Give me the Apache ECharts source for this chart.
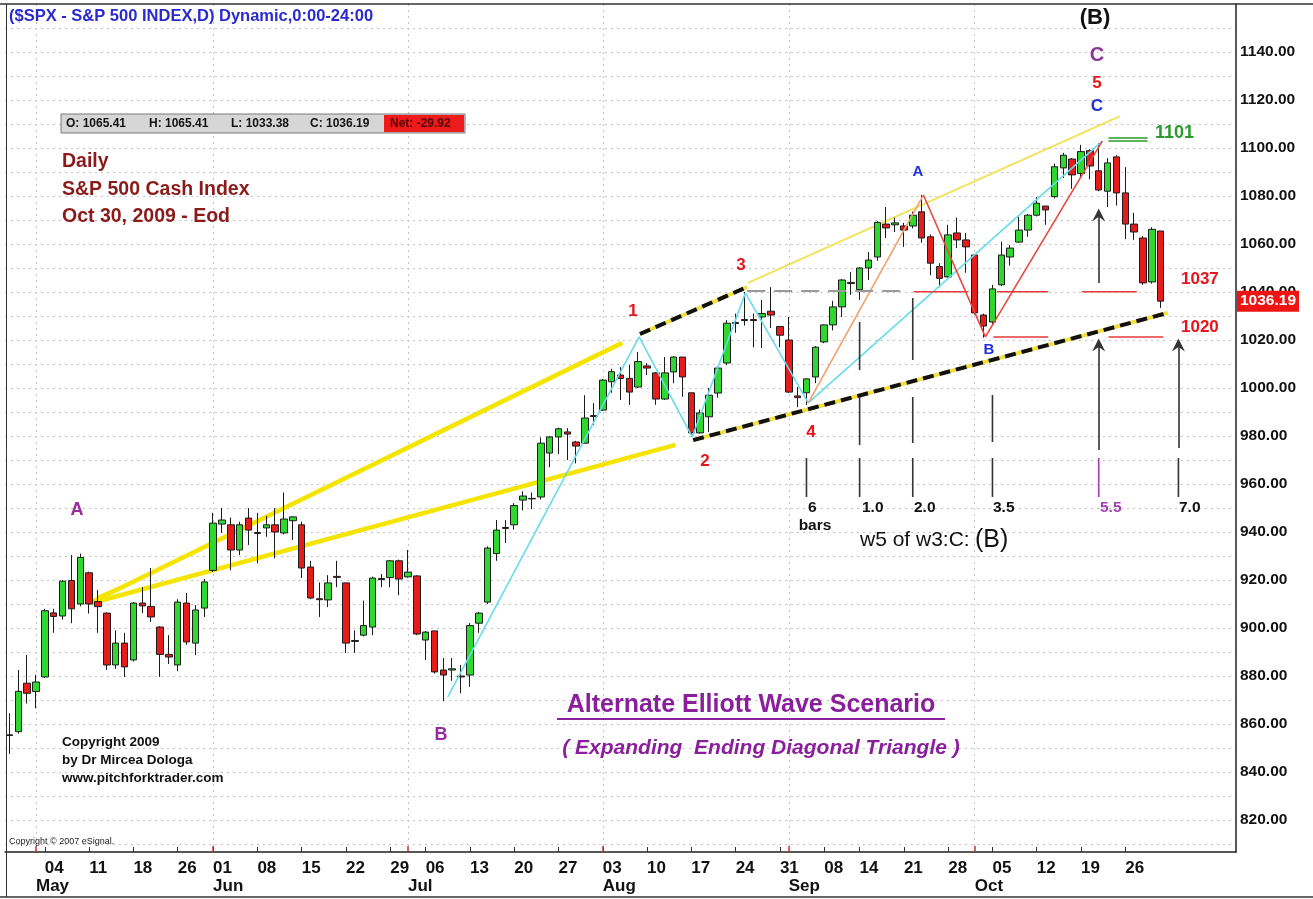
<!DOCTYPE html>
<html><head><meta charset="utf-8">
<script src="https://cdn.jsdelivr.net/npm/echarts@6/dist/echarts.min.js"></script>
<style>html,body{margin:0;padding:0;background:#fff;}#c{width:1313px;height:899px;}</style>
</head><body><div id="c"></div>
<script>
// ---------------- DATA ----------------
const dates = [
'2009-04-28','2009-04-29','2009-04-30','2009-05-01',
'2009-05-04','2009-05-05','2009-05-06','2009-05-07','2009-05-08',
'2009-05-11','2009-05-12','2009-05-13','2009-05-14','2009-05-15',
'2009-05-18','2009-05-19','2009-05-20','2009-05-21','2009-05-22',
'2009-05-26','2009-05-27','2009-05-28','2009-05-29',
'2009-06-01','2009-06-02','2009-06-03','2009-06-04','2009-06-05',
'2009-06-08','2009-06-09','2009-06-10','2009-06-11','2009-06-12',
'2009-06-15','2009-06-16','2009-06-17','2009-06-18','2009-06-19',
'2009-06-22','2009-06-23','2009-06-24','2009-06-25','2009-06-26',
'2009-06-29','2009-06-30','2009-07-01','2009-07-02',
'2009-07-06','2009-07-07','2009-07-08','2009-07-09','2009-07-10',
'2009-07-13','2009-07-14','2009-07-15','2009-07-16','2009-07-17',
'2009-07-20','2009-07-21','2009-07-22','2009-07-23','2009-07-24',
'2009-07-27','2009-07-28','2009-07-29','2009-07-30','2009-07-31',
'2009-08-03','2009-08-04','2009-08-05','2009-08-06','2009-08-07',
'2009-08-10','2009-08-11','2009-08-12','2009-08-13','2009-08-14',
'2009-08-17','2009-08-18','2009-08-19','2009-08-20','2009-08-21',
'2009-08-24','2009-08-25','2009-08-26','2009-08-27','2009-08-28',
'2009-08-31','2009-09-01','2009-09-02','2009-09-03','2009-09-04',
'2009-09-08','2009-09-09','2009-09-10','2009-09-11',
'2009-09-14','2009-09-15','2009-09-16','2009-09-17','2009-09-18',
'2009-09-21','2009-09-22','2009-09-23','2009-09-24','2009-09-25',
'2009-09-28','2009-09-29','2009-09-30','2009-10-01','2009-10-02',
'2009-10-05','2009-10-06','2009-10-07','2009-10-08','2009-10-09',
'2009-10-12','2009-10-13','2009-10-14','2009-10-15','2009-10-16',
'2009-10-19','2009-10-20','2009-10-21','2009-10-22','2009-10-23',
'2009-10-26','2009-10-27','2009-10-28','2009-10-29','2009-10-30'];
const futureSlots = ['f1','f2','f3','f4','f5','f6','f7','f8'];

const opens = [
855.5,856.8,877.0,873.5,
879.6,906.3,905.0,919.8,910.0,
923.0,911.0,906.2,884.6,893.7,
886.7,910.4,909.0,900.4,889.0,
884.6,910.4,893.7,908.3,
924.0,943.3,943.0,932.5,945.8,
939.8,941.7,943.0,939.6,944.7,
943.0,925.4,912.2,911.7,921.5,
918.8,894.8,897.0,900.4,920.6,
921.0,928.0,921.3,921.7,
895.0,898.8,882.5,882.5,880.0,
880.4,902.0,910.8,931.0,941.9,
943.0,953.3,953.8,954.6,972.9,
979.6,981.7,977.5,977.0,988.5,
990.8,1002.6,1005.4,1004.0,1000.4,
1009.2,1006.3,995.4,1006.7,1012.9,
998.0,981.3,988.0,997.9,1010.4,
1027.3,1028.5,1028.5,1029.6,1032.0,
1025.6,1020.0,996.7,998.0,1004.6,
1019.2,1026.3,1033.8,1044.0,
1041.0,1050.0,1054.6,1068.3,1068.0,
1067.5,1067.5,1073.4,1063.0,1050.6,
1046.3,1064.6,1061.7,1055.4,1030.4,
1027.5,1043.0,1054.6,1060.8,1065.8,
1072.0,1075.8,1079.7,1091.7,1095.4,
1089.4,1098.9,1090.5,1082.0,1096.3,
1081.3,1068.3,1062.5,1044.2,1065.41];
const closes = [
855.2,873.6,872.8,877.5,
907.2,904.8,919.5,908.0,929.4,
910.0,908.9,884.6,893.7,883.8,
910.4,909.2,904.6,889.0,887.9,
910.8,894.2,907.5,919.2,
943.7,945.0,932.5,943.0,940.8,
939.4,943.0,940.0,945.4,946.3,
925.0,912.5,911.8,918.8,921.1,
893.7,894.4,901.0,920.8,920.2,
928.0,920.4,923.3,897.5,
898.3,881.7,880.4,883.0,879.6,
901.0,906.2,933.3,940.8,941.5,
951.0,955.0,954.0,977.0,979.6,
983.0,980.8,975.8,987.5,988.1,
1003.3,1006.8,1004.0,998.3,1011.0,
1008.3,995.4,1006.3,1012.9,1004.6,
981.3,989.6,997.0,1008.3,1027.0,
1026.9,1028.1,1028.1,1031.0,1030.4,
1022.0,998.3,996.0,1003.8,1017.0,
1026.3,1033.8,1045.0,1043.5,
1050.0,1053.3,1069.0,1066.7,1068.8,
1065.8,1072.0,1062.5,1052.0,1045.7,
1063.8,1061.7,1058.8,1031.3,1025.8,
1041.3,1055.4,1058.3,1065.8,1072.0,
1077.0,1074.2,1092.2,1097.0,1088.8,
1098.5,1092.5,1082.5,1093.8,1081.3,
1068.3,1065.0,1043.8,1066.11,1036.19];
const lows = [
847.5,856.0,868.5,866.5,
879.2,898.0,903.5,902.0,909.0,
906.0,898.0,882.5,883.0,879.6,
886.0,906.2,902.5,879.6,885.0,
882.0,893.0,888.7,904.6,
923.3,939.6,924.0,930.4,934.6,
927.0,938.0,929.0,939.0,936.7,
920.8,912.0,904.6,908.7,917.0,
889.6,889.6,896.5,897.0,917.0,
917.0,913.7,921.0,897.0,
886.7,881.0,869.5,878.0,872.8,
875.5,898.0,910.0,928.0,935.4,
941.0,949.0,949.5,953.5,967.0,
972.5,970.0,968.6,977.0,984.6,
990.5,998.0,995.0,992.9,1000.0,
1005.4,993.0,995.0,1002.0,996.3,
979.6,981.0,981.7,996.0,1009.5,
1023.0,1026.0,1017.0,1016.7,1025.0,
1017.0,997.9,992.0,992.9,1002.0,
1018.7,1024.0,1029.6,1038.8,
1036.7,1045.0,1053.0,1062.5,1065.0,
1058.8,1066.5,1060.5,1047.0,1042.0,
1046.0,1058.3,1048.0,1030.5,1021.0,
1026.0,1042.5,1051.0,1060.5,1063.0,
1071.5,1068.0,1079.0,1087.5,1083.0,
1087.5,1087.0,1082.0,1075.4,1076.0,
1062.0,1061.7,1043.0,1043.5,1033.38];
const highs = [
864.5,882.5,888.7,880.5,
908.0,908.0,920.0,930.4,931.0,
923.5,915.8,906.5,899.0,898.0,
910.8,917.0,925.0,900.8,897.0,
912.0,914.6,909.6,920.4,
948.0,950.0,946.0,944.3,950.0,
948.0,946.7,950.0,956.5,946.5,
944.3,928.0,919.0,922.0,928.0,
918.8,899.0,911.4,921.4,922.5,
928.3,928.5,932.5,922.0,
898.8,898.8,887.5,887.5,884.6,
902.0,906.7,934.0,945.0,945.0,
952.0,957.0,956.5,979.4,980.0,
983.5,983.3,978.0,997.0,993.7,
1003.8,1008.0,1008.7,1009.6,1015.0,
1010.4,1006.7,1012.9,1013.3,1012.9,
998.0,991.0,1000.0,1009.0,1028.3,
1031.0,1040.0,1031.0,1036.7,1042.0,
1025.6,1029.6,1000.4,1004.0,1017.5,
1026.5,1036.3,1045.4,1048.3,
1050.4,1056.7,1069.5,1075.4,1071.0,
1068.8,1073.5,1080.4,1064.0,1052.0,
1068.0,1071.0,1064.6,1055.8,1031.0,
1043.0,1061.0,1059.6,1071.3,1072.5,
1079.6,1075.8,1093.5,1098.0,1095.8,
1101.3,1099.5,1102.0,1095.8,1097.0,
1092.0,1073.0,1063.3,1067.0,1065.41];

const yLabelValues = [820,840,860,880,900,920,940,960,980,1000,1020,1040,1060,1080,1100,1120,1140];
const yGridValues = [810,820,830,840,850,860,870,880,890,900,910,920,930,940,950,960,970,980,990,1000,1010,1020,1030,1040,1050,1060,1070,1080,1090,1100,1110,1120,1130,1140,1150];
const monthNames = {'05':'May','06':'Jun','07':'Jul','08':'Aug','09':'Sep','10':'Oct'};

// annotation lines: points are [bar index, price]
const yellowFanUpper = [[9.3,910.8],[69.2,1018.8]];
const yellowFanLower = [[9.3,910.4],[75.2,976.3]];
const yellowFanShort = [[10.0,912.9],[13.1,917.9]];
const yellowThin = [[83.4,1043.8],[125.4,1113.3]];
const dashedUpper = [[71.2,1022.5],[83.3,1042.1]];
const dashedLower = [[77.2,978.3],[130.8,1031.3]];
const cyanWaves = [[49.5,871.3],[71.1,1021.3],[77.1,979.6],[83.1,1039.6],[90.2,993.8]];
const cyanToC = [[90.2,993.8],[123.4,1102.9]];
const orangeToA = [[90.2,993.8],[103.2,1080.4]];
const redABC = [[103.2,1080.4],[110.2,1021.3],[123.4,1102.9]];
const grayLevel = [83.3,101.4,1040.4];
const redLevels = [[102.1,108.3,1040.1],[111.5,117.3,1040.1],[121.1,127.3,1040.1],[111.1,117.3,1021.3],[124.1,130.3,1021.3]];
const greenLevels = [[124.1,128.5,1104.2],[124.1,128.5,1102.9]];
const timeLines = [
  {idx:90, segs:[[954.6,970.8]], color:'#333'},
  {idx:96, segs:[[1007.5,1027.5],[976.3,996.3],[954.6,970.8]], color:'#333'},
  {idx:102, segs:[[1011.7,1037.5],[977.1,996.3],[954.6,970.8]], color:'#333'},
  {idx:111, segs:[[977.5,997.1],[954.6,970.8]], color:'#333'},
  {idx:123, segs:[[954.6,970.8]], color:'#a040b0'},
  {idx:132, segs:[[954.6,970.8]], color:'#333'}
];
const arrows = [[123,1043.8,1072.1],[123,974.2,1017.9],[132,975.0,1017.9]];

// ---------------- CHART ----------------
const cats = dates.concat(futureSlots);
const isDate = s => /^\d{4}-/.test(s);
const dOf = s => new Date(s + 'T00:00:00Z');
const weekStart = cats.map((d,k) => {
  if (k === 0 || !isDate(d)) return false;
  const a = dOf(cats[k-1]), b = dOf(d);
  return b.getUTCDay() < a.getUTCDay() || (b - a) > 6*864e5;
});
const monthStart = cats.map((d,k) => k > 0 && isDate(d) && d.slice(5,7) !== cats[k-1].slice(5,7));
const monthStartIdx = monthStart.map((v,k) => v ? k : -1).filter(k => k >= 0);

const FF = '"Liberation Sans", Arial, sans-serif';
const candleData = dates.map((d,k) => [opens[k], closes[k], lows[k], highs[k]]);

function ln(data, style, z) {
  return {type:'line', xAxisIndex:2, yAxisIndex:0, data:data, symbol:'none', showSymbol:false,
    silent:true, animation:false, z:z||3, lineStyle:style, connectNulls:false};
}
const series = [];
series.push({type:'candlestick', xAxisIndex:0, yAxisIndex:0, data:candleData, barWidth:7, z:2,
  itemStyle:{color:'#2fd82f', color0:'#e41c1c', borderColor:'#1c1c1c', borderColor0:'#1c1c1c', borderWidth:1}});
series.push(ln(yellowFanUpper, {color:'#f4e400', width:4.5}, 1));
series.push(ln(yellowFanLower, {color:'#f4e400', width:4.5}, 1));
series.push(ln(yellowFanShort, {color:'#f4e400', width:3}, 1));
series.push(ln(yellowThin, {color:'#f3e25a', width:2}, 1));
[dashedUpper, dashedLower].forEach(p => {
  series.push(ln(p, {color:'#f2e040', width:4}, 3));
  series.push(ln(p, {color:'#111', width:4, type:[11,6]}, 3));
});
series.push(ln(cyanWaves, {color:'#66dcec', width:1.6}));
series.push(ln(cyanToC, {color:'#66dcec', width:1.6}));
series.push(ln(orangeToA, {color:'#f2a070', width:1.6}));
series.push(ln(redABC, {color:'#e8483f', width:1.6}));
series.push(ln([[grayLevel[0],grayLevel[2]],[grayLevel[1],grayLevel[2]]], {color:'#9a9a9a', width:2, type:[18,9]}));
redLevels.forEach(r => series.push(ln([[r[0],r[2]],[r[1],r[2]]], {color:'#e83a3a', width:1.5})));
greenLevels.forEach(r => series.push(ln([[r[0],r[2]],[r[1],r[2]]], {color:'#2a9a2a', width:1.5})));
timeLines.forEach(t => t.segs.forEach(s => series.push(ln([[t.idx,s[0]],[t.idx,s[1]]], {color:t.color, width:1.6}))));
series.push({type:'lines', coordinateSystem:'cartesian2d', xAxisIndex:2, yAxisIndex:0, z:4, silent:true,
  symbol:['none','path://M6,0 L12,14 L6,9 L0,14 Z'], symbolSize:13,
  lineStyle:{color:'#333', width:1.6, opacity:1},
  data: arrows.map(a => ({coords:[[a[0],a[1]],[a[0],a[2]]]}))});

function T(text, x, y, font, fill, align, extra) {
  return Object.assign({type:'text', x:x, y:y, z:100, silent:true,
    style:{text:text, font:font, fill:fill, align:align||'left', textAlign:align||'left',
      verticalAlign:'middle', textVerticalAlign:'middle'}}, extra||{});
}
const B = (s) => 'bold ' + s + 'px ' + FF;
const last = dates.length - 1;
const ohlc = [
  'O: ' + opens[last].toFixed(2), 'H: ' + highs[last].toFixed(2),
  'L: ' + lows[last].toFixed(2), 'C: ' + closes[last].toFixed(2)];
const net = 'Net: ' + (closes[last] - closes[last-1]).toFixed(2);

const graphics = [
  {type:'line', z:50, shape:{x1:0,y1:4,x2:1313,y2:4}, style:{stroke:'#333', lineWidth:1.5}},
  {type:'line', z:50, shape:{x1:6.5,y1:4,x2:6.5,y2:897}, style:{stroke:'#333', lineWidth:1}},
  {type:'line', z:50, shape:{x1:0,y1:897,x2:1313,y2:897}, style:{stroke:'#333', lineWidth:1.5}},
  T('($SPX - S&P 500 INDEX,D) Dynamic,0:00-24:00', 9, 16, B(16.5), '#2a2ad0'),
  // OHLC box
  {type:'rect', z:90, shape:{x:61,y:114,width:404,height:19}, style:{fill:'#d6d6d6', stroke:'#7a7a7a', lineWidth:1}},
  {type:'rect', z:91, shape:{x:384,y:115,width:80,height:17}, style:{fill:'#ee1b1b'}},
  T(ohlc[0], 66, 124, B(12), '#111'),
  T(ohlc[1], 149, 124, B(12), '#111'),
  T(ohlc[2], 231, 124, B(12), '#111'),
  T(ohlc[3], 310, 124, B(12), '#111'),
  T(net, 390, 124, B(12), '#5a0000'),
  T('Daily', 62, 162, B(19.5), '#8b1a1a'),
  T('S&P 500 Cash Index', 62, 190, B(19.5), '#8b1a1a'),
  T('Oct 30, 2009 - Eod', 62, 217, B(19.5), '#8b1a1a'),
  T('Copyright 2009', 62, 742, B(13.5), '#111'),
  T('by Dr Mircea Dologa', 62, 760, B(13.5), '#111'),
  T('www.pitchforktrader.com', 62, 778, B(13.5), '#111'),
  T('Copyright \u00a9 2007 eSignal.', 9, 842, '9px ' + FF, '#222'),
  T('Alternate Elliott Wave Scenario', 751, 705, B(25), '#8a1f9c', 'center'),
  {type:'line', z:100, shape:{x1:557,y1:719,x2:945,y2:719}, style:{stroke:'#8a1f9c', lineWidth:2}},
  T('( Expanding  Ending Diagonal Triangle )', 761, 748, 'italic bold 21px ' + FF, '#8a1f9c', 'center'),
  // wave labels
  T('A', 77, 510, B(18), '#9a2aa0', 'center'),
  T('B', 441, 735, B(18), '#9a2aa0', 'center'),
  T('1', 633, 311, B(17), '#e8141a', 'center'),
  T('2', 705, 461, B(17), '#e8141a', 'center'),
  T('3', 741, 265, B(17), '#e8141a', 'center'),
  T('4', 811, 432, B(17), '#e8141a', 'center'),
  T('A', 918, 172, B(15), '#1f2ee0', 'center'),
  T('B', 989, 350, B(15), '#1f2ee0', 'center'),
  T('C', 1097, 106, B(17), '#1f2ee0', 'center'),
  T('5', 1097, 83, B(17), '#e8141a', 'center'),
  T('C', 1097, 55, B(20), '#8e3399', 'center'),
  T('(B)', 1095, 18, B(22), '#111', 'center'),
  T('1101', 1155, 133, B(18), '#2a9a2a'),
  T('1037', 1181, 279, B(17), '#e8141a'),
  T('1020', 1181, 327, B(17), '#e8141a'),
  // time count labels
  T('6', 808, 508, B(15.5), '#111'),
  T('bars', 815, 526, B(15.5), '#111', 'center'),
  T('1.0', 862, 508, B(15.5), '#111'),
  T('2.0', 914, 508, B(15.5), '#111'),
  T('3.5', 993, 508, B(15.5), '#111'),
  T('5.5', 1100, 508, B(15.5), '#a040b0'),
  T('7.0', 1179, 508, B(15.5), '#111'),
  T('w5 of w3:C:', 860, 540, '21px ' + FF, '#111'),
  T('(B)', 975, 540, '25px ' + FF, '#111')
];

const chart = echarts.init(document.getElementById('c'), null, {renderer:'canvas'});
chart.setOption({
  animation:false,
  backgroundColor:'#ffffff',
  grid:{left:5, right:77, top:4, bottom:47, containLabel:false, outerBoundsMode:'none', show:false},
  xAxis:[
    {type:'category', data:cats, boundaryGap:true, position:'bottom',
      axisLine:{show:true, onZero:false, lineStyle:{color:'#222', width:1.5}},
      axisTick:{show:true, alignWithLabel:true, inside:true, length:5, interval:(i)=>weekStart[i], lineStyle:{color:'#333'}},
      axisLabel:{show:true, interval:(i)=>weekStart[i], formatter:(v)=>isDate(v)?v.slice(8):'', align:'left', margin:8,
        fontFamily:FF, fontSize:17, fontWeight:'bold', color:'#111'},
      splitLine:{show:false}},
    {type:'category', data:cats, boundaryGap:true, position:'bottom',
      axisLine:{show:false, onZero:false}, axisTick:{show:false},
      axisLabel:{show:true, interval:(i)=>monthStart[i], formatter:(v)=>isDate(v)?monthNames[v.slice(5,7)]:'', align:'left', margin:26,
        fontFamily:FF, fontSize:17, fontWeight:'bold', color:'#111'},
      splitLine:{show:false}},
    {type:'value', min:-0.5, max:cats.length-0.5, position:'bottom', show:true,
      axisLine:{show:false, onZero:false}, axisLabel:{show:false},
      axisTick:{show:true, inside:true, length:6, customValues:monthStartIdx, lineStyle:{color:'#c0392b', width:1.5}},
      splitLine:{show:true, lineStyle:{color:'#c4c4c4', type:[2,4], width:1}}}
  ],
  yAxis:[
    {type:'value', position:'right', min:806.6667, max:1160,
      axisLine:{show:true, onZero:false, lineStyle:{color:'#222', width:1.5}},
      axisTick:{show:false, customValues:yGridValues},
      axisLabel:{show:true, customValues:yLabelValues, formatter:(v)=>Number(v).toFixed(2), align:'left', margin:4,
        fontFamily:FF, fontSize:15.5, fontWeight:'bold', color:'#111'},
      splitLine:{show:true, lineStyle:{color:'#c4c4c4', type:[2,4], width:1}}},
    {type:'value', position:'right', min:806.6667, max:1160,
      axisLine:{show:false, onZero:false}, axisTick:{show:false}, splitLine:{show:false},
      axisLabel:{show:true, customValues:[closes[last]], formatter:(v)=>Number(v).toFixed(2), align:'left', margin:1,
        fontFamily:FF, fontSize:15.5, fontWeight:'bold', color:'#ffffff', backgroundColor:'#ee1414', padding:[3,3,2,3]}}
  ],
  series:series,
  graphic:{elements:graphics}
});
</script></body></html>
